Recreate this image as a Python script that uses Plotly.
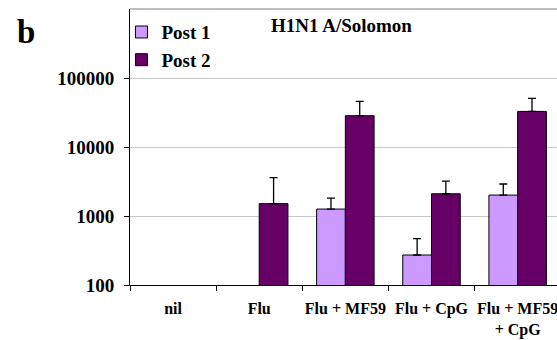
import plotly.graph_objects as go

# Haemagglutination-inhibition titres, H1N1 A/Solomon
groups = ["nil", "Flu", "Flu + MF59", "Flu + CpG", "Flu + MF59<br>+ CpG"]
post1 = [None, None, 1260, 272, 2010]
post1_err = [0, 0, 560, 197, 900]
post2 = [None, 1510, 28400, 2100, 32800]
post2_err = [0, 2080, 17400, 1110, 17800]
y_ticks = [100, 1000, 10000, 100000]

FONT = "Liberation Serif, Times New Roman, serif"

fig = go.Figure()
fig.add_trace(go.Bar(
    name="Post 1", x=groups, y=post1,
    marker=dict(color="#cc99ff", line=dict(color="#000000", width=1)),
    error_y=dict(type="data", symmetric=False, array=post1_err,
                 arrayminus=[0] * len(post1_err),
                 color="#000000", thickness=1.3, width=4),
))
fig.add_trace(go.Bar(
    name="Post 2", x=groups, y=post2,
    marker=dict(color="#660066", line=dict(color="#000000", width=1)),
    error_y=dict(type="data", symmetric=False, array=post2_err,
                 arrayminus=[0] * len(post2_err),
                 color="#000000", thickness=1.3, width=4),
))

fig.update_layout(
    width=557, height=340,
    margin=dict(l=130, r=0, t=9, b=55, autoexpand=False),
    paper_bgcolor="white", plot_bgcolor="white",
    barmode="group", bargap=0.333, bargroupgap=0,
    font=dict(family=FONT, size=18, color="#000000", weight="bold"),
    showlegend=True,
    legend=dict(x=-0.02, y=0.985, xanchor="left", yanchor="top",
                bgcolor="rgba(0,0,0,0)", font=dict(family=FONT, size=19, weight="bold"),
                itemwidth=30, tracegroupgap=0),
)

fig.update_xaxes(
    type="category", range=[-0.5, 4.457], automargin=False, tickangle=0,
    showline=True, linecolor="#000000", linewidth=1,
    ticks="outside", tickson="boundaries", ticklen=5, tickcolor="#000000",
    tickfont=dict(family=FONT, size=16, weight="bold"),
    ticklabelstandoff=9, showgrid=False, zeroline=False,
)
fig.update_yaxes(
    type="log", range=[2, 6], automargin=False,
    tickvals=y_ticks, ticktext=[str(v) for v in y_ticks],
    showline=True, linecolor="#000000", linewidth=1,
    ticks="outside", ticklen=5, tickcolor="#000000",
    tickfont=dict(family=FONT, size=19, weight="bold"), ticklabelstandoff=6,
    showgrid=True, gridcolor="#c8c8c8", gridwidth=1, zeroline=False,
)

# top border of the plotting area
fig.add_shape(type="line", xref="paper", yref="paper", x0=0, x1=1, y0=1, y1=1,
              line=dict(color="#a8a8a8", width=1.5))

fig.add_annotation(text="H1N1 A/Solomon", xref="paper", yref="paper",
                   x=0.495, y=0.942, xanchor="center", yanchor="middle",
                   showarrow=False, font=dict(family=FONT, size=19, weight="bold"))
fig.add_annotation(text="b", xref="paper", yref="paper",
                   x=-0.244, y=0.915, xanchor="center", yanchor="middle",
                   showarrow=False, font=dict(family=FONT, size=33, weight="bold"))

fig.write_html("out.html")
